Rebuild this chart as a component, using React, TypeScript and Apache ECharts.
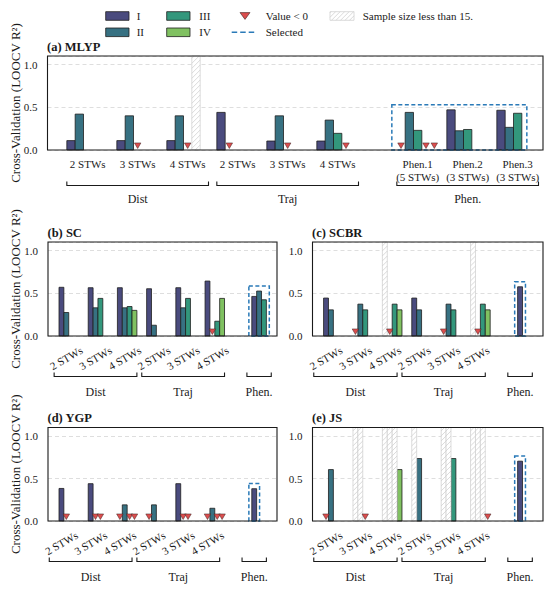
import React, { useEffect, useRef } from "react";
import * as echarts from "echarts";

const FONT = "Liberation Serif";

// ---- texts ----
const STW_LABELS = ["2 STWs", "3 STWs", "4 STWs"];
const PHEN_LABELS_A = ["Phen.1\n(5 STWs)", "Phen.2\n(3 STWs)", "Phen.3\n(3 STWs)"];
const GROUP_NAMES = ["Dist", "Traj", "Phen."];
const SERIES_NAMES = ["I", "II", "III", "IV"];
const Y_TICKS = [0, 0.5, 1.0];
const Y_TITLE = "Cross-Validation (LOOCV R²)";

// ---- values (LOOCV R²) per group, one entry per STW I, II, III, IV (, V) ----
// "neg": value < 0 ; "small": sample size less than 15
const MLYP_DIST = [[0.11, 0.42], [0.11, 0.40, "neg"], [0.11, 0.40, "neg", "small"]];
const MLYP_TRAJ = [[0.44, "neg"], [0.105, 0.40, "neg"], [0.105, 0.35, 0.195, "neg"]];
const MLYP_PHEN = [["neg", 0.44, 0.23, "neg", "neg"], [0.47, 0.225, 0.24], [0.465, 0.265, 0.43]];

const SC_DIST = [[0.57, 0.275], [0.565, 0.33, 0.44], [0.565, 0.33, 0.345, 0.30]];
const SC_TRAJ = [[0.553, 0.126], [0.565, 0.33, 0.44], [0.643, "neg", 0.173, 0.44]];
const SC_PHEN = [[0.463, 0.526, 0.424]];

const SCBR_DIST = [[0.444, 0.306], ["neg", 0.373, 0.306], ["small", "neg", 0.373, 0.306]];
const SCBR_TRAJ = [[0.444, 0.306], ["neg", 0.373, 0.306], ["small", "neg", 0.373, 0.306]];
const SCBR_PHEN = [[0.576]];

const YGP_DIST = [[0.383, "neg"], [0.439, "neg", "neg"], ["neg", 0.19, "neg", "neg"]];
const YGP_TRAJ = [["neg", 0.19], [0.439, "neg", "neg"], ["neg", 0.15, "neg", "neg"]];
const YGP_PHEN = [[0.38]];

const JS_DIST = [["neg", 0.605], ["small", "small", "neg"], ["small", "small", "small", 0.605]];
const JS_TRAJ = [["small", 0.735], ["small", "small", 0.735], ["small", "small", "small", "neg"]];
const JS_PHEN = [[0.704]];

// ---- styles ----
const BAR_COLORS = ["#4a4b7e", "#377182", "#33977c", "#80c161", "#80c161"];
const NEG_COLOR = "#dc4e4e";
const SEL_COLOR = "#2a7ab8";
const HATCH_COLOR = "#cacaca";
const W = 1 / 6; // slot width in x units
const Y_MAX = 1.1;

type Panel = {
  title: string;
  dist: any[][];
  traj: any[][];
  phen: any[][];
  phenLabels: string[] | null;
  grid: { left: number; top: number; width: number; height: number };
  xmin: number;
  xmax: number;
  shift: number; // label shift in slots
  big: boolean;
  yTitle: boolean;
};

const PANELS: Panel[] = [
  { title: "(a) MLYP", dist: MLYP_DIST, traj: MLYP_TRAJ, phen: MLYP_PHEN, phenLabels: PHEN_LABELS_A,
    grid: { left: 47.5, top: 56, width: 495.5, height: 94 }, xmin: -0.72, xmax: 9.19, shift: 0.5, big: true, yTitle: true },
  { title: "(b) SC", dist: SC_DIST, traj: SC_TRAJ, phen: SC_PHEN, phenLabels: null,
    grid: { left: 48, top: 242, width: 229, height: 94 }, xmin: -0.71, xmax: 7.13, shift: -0.5, big: false, yTitle: true },
  { title: "(c) SCBR", dist: SCBR_DIST, traj: SCBR_TRAJ, phen: SCBR_PHEN, phenLabels: null,
    grid: { left: 312.5, top: 242, width: 230.5, height: 94 }, xmin: -0.71, xmax: 7.13, shift: -1.5, big: false, yTitle: false },
  { title: "(d) YGP", dist: YGP_DIST, traj: YGP_TRAJ, phen: YGP_PHEN, phenLabels: null,
    grid: { left: 48, top: 427.5, width: 229, height: 93.5 }, xmin: -0.71, xmax: 7.13, shift: -1.5, big: false, yTitle: true },
  { title: "(e) JS", dist: JS_DIST, traj: JS_TRAJ, phen: JS_PHEN, phenLabels: null,
    grid: { left: 312.5, top: 427.5, width: 230.5, height: 93.5 }, xmin: -0.71, xmax: 7.13, shift: -1.5, big: false, yTitle: false },
];

function hatchLines(x: number, y: number, w: number, h: number, s: number, color: string) {
  const out: any[] = [];
  const bottom = y + h;
  for (let c = bottom + w; c > y; c -= s) {
    const t0 = Math.max(0, (c - bottom) / w);
    const t1 = Math.min(1, (c - y) / w);
    if (t1 <= t0) continue;
    out.push({
      type: "line",
      shape: { x1: x + t0 * w, y1: c - t0 * w, x2: x + t1 * w, y2: c - t1 * w },
      style: { stroke: color, lineWidth: 0.7 },
    });
  }
  return out;
}

function textStyle(text: string, size: number, align: string, valign: string, extra: any = {}) {
  return {
    text,
    fontFamily: FONT,
    fontSize: size,
    fill: "#1a1a1a",
    align,
    verticalAlign: valign,
    ...extra,
  };
}

function buildOption() {
  const grids: any[] = [];
  const xAxes: any[] = [];
  const yAxes: any[] = [];
  const series: any[] = [];
  const graphics: any[] = [];

  PANELS.forEach((p, i) => {
    grids.push({ ...p.grid, show: true, borderColor: "#1a1a1a", borderWidth: 1.1, backgroundColor: "transparent", z: 10 });
    xAxes.push({ type: "value", gridIndex: i, min: p.xmin, max: p.xmax, show: false, splitLine: { show: false } });
    yAxes.push({
      type: "value", gridIndex: i, min: 0, max: Y_MAX, interval: 0.5,
      axisLine: { show: false }, axisTick: { show: false },
      axisLabel: {
        fontFamily: FONT, fontSize: 11, color: "#1a1a1a", margin: 10,
        formatter: (v: number) => (Y_TICKS.some((t) => Math.abs(t - v) < 1e-6) ? v.toFixed(1) : ""),
      },
      splitLine: { lineStyle: { color: "#d6d6d6", width: 0.8, type: [4, 3] } },
    });

    // group positions
    const groups: { g: number; vals: any[] }[] = [];
    p.dist.forEach((vals, j) => groups.push({ g: j, vals }));
    p.traj.forEach((vals, j) => groups.push({ g: 3 + j, vals }));
    const phenStart = groups.length;
    p.phen.forEach((vals, j) => groups.push({ g: 6.6 + j, vals }));

    const bars: number[][] = [];
    const negs: number[][] = [];
    const smalls: number[][] = [];
    groups.forEach(({ g, vals }) => {
      vals.forEach((v, k) => {
        const cx = g + (k - 1.5) * W;
        if (typeof v === "number") bars.push([cx, v, k]);
        else if (v === "neg") negs.push([cx, 0.05]);
        else if (v === "small") smalls.push([cx, 0]);
      });
    });

    const common = { xAxisIndex: i, yAxisIndex: i, silent: true, animation: false };

    series.push({
      ...common, type: "custom", name: "bars" + i, data: bars, encode: { x: 0, y: 1 },
      renderItem: (_: any, api: any) => {
        const cx = api.value(0), v = api.value(1), k = api.value(2);
        const a = api.coord([cx - W / 2, v]);
        const b = api.coord([cx + W / 2, 0]);
        return {
          type: "rect",
          shape: { x: a[0], y: a[1], width: b[0] - a[0], height: b[1] - a[1] },
          style: { fill: BAR_COLORS[k], stroke: "#1e1e1e", lineWidth: 0.8 },
        };
      },
    });

    if (smalls.length) {
      series.push({
        ...common, type: "custom", name: "small" + i, data: smalls, encode: { x: 0, y: 1 },
        renderItem: (_: any, api: any) => {
          const cx = api.value(0);
          const a = api.coord([cx - W / 2, Y_MAX]);
          const b = api.coord([cx + W / 2, 0]);
          const x = a[0], y = a[1], w = b[0] - a[0], h = b[1] - a[1];
          return {
            type: "group",
            children: [
              { type: "rect", shape: { x, y, width: w, height: h }, style: { fill: "#ffffff", stroke: "#d2d2d2", lineWidth: 0.8 } },
              ...hatchLines(x, y, w, h, 5, HATCH_COLOR),
            ],
          };
        },
      });
    }

    if (negs.length) {
      series.push({
        ...common, type: "scatter", name: "neg" + i, data: negs, symbol: "triangle", symbolRotate: 180,
        symbolSize: [6.5, 5.6], z: 4,
        itemStyle: { color: NEG_COLOR, borderColor: "#3a2020", borderWidth: 0.5, opacity: 1 },
      });
    }

    // selected box around the phenological group(s)
    const phenGroups = groups.slice(phenStart);
    const first = phenGroups[0];
    const last = phenGroups[phenGroups.length - 1];
    let vmax = 0;
    phenGroups.forEach(({ vals }) => vals.forEach((v) => { if (typeof v === "number") vmax = Math.max(vmax, v); }));
    const boxX0 = first.g - 1.5 * W - W / 2 - 0.1;
    const boxX1 = last.g + (last.vals.length - 1 - 1.5) * W + W / 2 + 0.1;
    series.push({
      ...common, type: "custom", name: "sel" + i, data: [[boxX0, boxX1, vmax + 0.06]], clip: false, z: 5,
      encode: { x: [0, 1], y: 2 },
      renderItem: (_: any, api: any) => {
        const a = api.coord([api.value(0), api.value(2)]);
        const b = api.coord([api.value(1), 0]);
        return {
          type: "rect",
          shape: { x: a[0], y: a[1], width: b[0] - a[0], height: b[1] - a[1] },
          style: { fill: "none", stroke: SEL_COLOR, lineWidth: 1.5, lineDash: [4, 2.5] },
        };
      },
    });

    // x tick labels
    const labelTexts: string[] = [];
    const labelData: number[][] = [];
    groups.forEach(({ g }, j) => {
      if (j < phenStart) {
        labelTexts.push(STW_LABELS[j % 3]);
        labelData.push([g + p.shift * W, labelTexts.length - 1]);
      } else if (p.phenLabels) {
        labelTexts.push(p.phenLabels[j - phenStart]);
        labelData.push([g + p.shift * W, labelTexts.length - 1]);
      }
    });
    series.push({
      ...common, type: "custom", name: "xl" + i, data: labelData, clip: false, encode: { x: 0 },
      renderItem: (_: any, api: any) => {
        const x = api.value(0), idx = api.value(1);
        const pt = api.coord([x, 0]);
        if (p.big) {
          return {
            type: "text", x: pt[0], y: pt[1] + 7.5,
            style: textStyle(labelTexts[idx], 11, "center", "top", { lineHeight: 13 }),
          };
        }
        return {
          type: "text", x: pt[0], y: pt[1] + 22, rotation: Math.PI / 6,
          style: textStyle(labelTexts[idx], 11, "center", "middle"),
        };
      },
    });

    // brackets with group names
    const lab = (g: number) => g + p.shift * W;
    const brackets = [
      [lab(groups[0].g) - 2.5 * W, lab(groups[2].g) + 2.5 * W, 0],
      [lab(groups[3].g) - 2.5 * W, lab(groups[5].g) + 2.5 * W, 1],
      [lab(first.g) - 2.5 * W, lab(last.g) + 2.5 * W, 2],
    ];
    const lineOff = p.big ? 35.5 : 40.5;
    const nameOff = p.big ? 13.5 : 15.5;
    series.push({
      ...common, type: "custom", name: "br" + i, data: brackets, clip: false, encode: { x: [0, 1] },
      renderItem: (_: any, api: any) => {
        const p0 = api.coord([api.value(0), 0]);
        const p1 = api.coord([api.value(1), 0]);
        const yl = p0[1] + lineOff;
        return {
          type: "group",
          children: [
            {
              type: "polyline",
              shape: { points: [[p0[0], yl - 4], [p0[0], yl], [p1[0], yl], [p1[0], yl - 4]] },
              style: { stroke: "#1a1a1a", lineWidth: 1.1, fill: "none" },
            },
            {
              type: "text", x: (p0[0] + p1[0]) / 2, y: yl + nameOff,
              style: textStyle(GROUP_NAMES[api.value(2)], 12, "center", "middle"),
            },
          ],
        };
      },
    });

    // panel title
    graphics.push({
      type: "text", x: p.grid.left - 0.5, y: p.grid.top - 9.5,
      style: textStyle(p.title, 12.5, "left", "middle", { fontWeight: "bold" }),
    });
    if (p.yTitle) {
      graphics.push({
        type: "text", x: 15, y: p.grid.top + p.grid.height / 2, rotation: Math.PI / 2,
        style: textStyle(Y_TITLE, 13, "center", "middle"),
      });
    }
  });

  // legend
  const r1 = 16, r2 = 32.3, ph = 8.6;
  const patch = (x: number, y: number, color: string) => ({
    type: "rect", shape: { x, y: y - ph / 2, width: 23.3, height: ph },
    style: { fill: color, stroke: "#1e1e1e", lineWidth: 0.8 },
  });
  graphics.push(patch(105.7, r1, BAR_COLORS[0]));
  graphics.push(patch(105.7, r2, BAR_COLORS[1]));
  graphics.push(patch(166.7, r1, BAR_COLORS[2]));
  graphics.push(patch(166.7, r2, BAR_COLORS[3]));
  graphics.push({ type: "text", x: 136.7, y: r1, style: textStyle(SERIES_NAMES[0], 11, "left", "middle") });
  graphics.push({ type: "text", x: 136.7, y: r2, style: textStyle(SERIES_NAMES[1], 11, "left", "middle") });
  graphics.push({ type: "text", x: 199.3, y: r1, style: textStyle(SERIES_NAMES[2], 11, "left", "middle") });
  graphics.push({ type: "text", x: 199.3, y: r2, style: textStyle(SERIES_NAMES[3], 11, "left", "middle") });
  graphics.push({
    type: "polygon", shape: { points: [[240, 12.6], [250, 12.6], [245, 19.4]] },
    style: { fill: NEG_COLOR, stroke: "#3a2020", lineWidth: 0.6 },
  });
  graphics.push({
    type: "line", shape: { x1: 231.7, y1: r2, x2: 255.5, y2: r2 },
    style: { stroke: SEL_COLOR, lineWidth: 1.6, lineDash: [5.5, 3] },
  });
  graphics.push({ type: "text", x: 265.7, y: r1, style: textStyle("Value < 0", 11, "left", "middle") });
  graphics.push({ type: "text", x: 265.7, y: r2, style: textStyle("Selected", 11, "left", "middle") });
  graphics.push({
    type: "group",
    children: [
      { type: "rect", shape: { x: 330, y: r1 - ph / 2, width: 24, height: ph }, style: { fill: "#ffffff", stroke: "#d2d2d2", lineWidth: 0.8 } },
      ...hatchLines(330, r1 - ph / 2, 24, ph, 4.5, HATCH_COLOR),
    ],
  });
  graphics.push({ type: "text", x: 362.7, y: r1, style: textStyle("Sample size less than 15.", 11, "left", "middle") });

  return {
    animation: false,
    backgroundColor: "#ffffff",
    textStyle: { fontFamily: FONT },
    grid: grids,
    xAxis: xAxes,
    yAxis: yAxes,
    series,
    graphic: { elements: graphics },
  };
}

export default function App() {
  const ref = useRef<HTMLDivElement>(null);
  useEffect(() => {
    if (!ref.current) return;
    const chart = echarts.init(ref.current, null, { renderer: "svg" });
    chart.setOption(buildOption() as any);
    return () => chart.dispose();
  }, []);
  return (
    <div
      ref={ref}
      style={{ position: "fixed", left: 0, top: 0, width: 550, height: 590, background: "#ffffff" }}
    />
  );
}
